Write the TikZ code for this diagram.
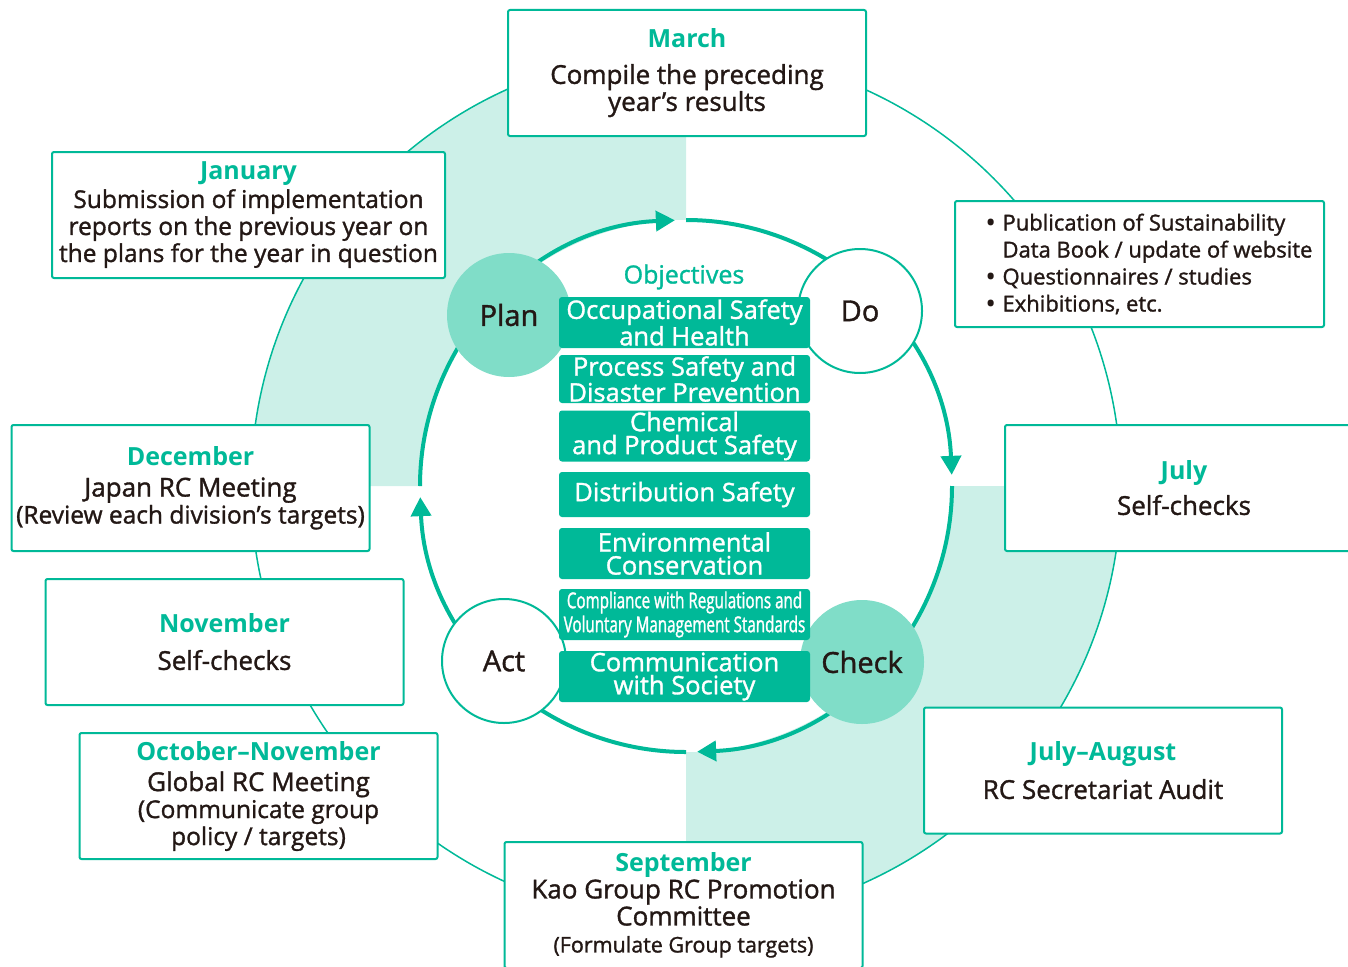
\documentclass[tikz,border=0pt]{standalone}
\usepackage{fontspec}
\setmainfont{Open Sans}[UprightFeatures={FakeBold=1.3}]
\newfontfamily\condfont[FakeStretch=0.69,FakeBold=1.3]{Open Sans}
\usetikzlibrary{arrows.meta}
\definecolor{kaoteal}{RGB}{0,185,152}
\definecolor{kaomint}{RGB}{128,221,200}
\definecolor{kaopale}{RGB}{204,240,232}
\definecolor{kaoink}{RGB}{35,24,21}
\newcommand\mon[1]{{\fontsize{25}{27}\selectfont\bfseries\color{kaoteal}#1}}
\newcommand\smalltext{\fontsize{24.5}{26}\selectfont}
\newcommand\bul{\hspace*{20pt}\makebox[16pt][l]{\bfseries\textbullet}}
\tikzset{
  monthbox/.style={draw=kaoteal, line width=2pt, fill=white, rounded corners=2pt,
    minimum width=358pt, minimum height=126pt, inner sep=2pt, align=center,
    text=kaoink, font=\fontsize{26}{27}\selectfont},
  objbox/.style={fill=kaoteal, rounded corners=3pt, minimum width=251pt,
    minimum height=51pt, inner sep=1pt, align=center, text=white,
    font=\fontsize{25.5}{23}\selectfont},
  pdca/.style={circle, minimum size=124pt, inner sep=0pt, text=kaoink,
    font=\fontsize{29}{30}\selectfont},
  cyc/.style={kaoteal, line width=4pt, -{Triangle[length=19pt,width=20pt]}},
}
\begin{document}
\begin{tikzpicture}[x=1pt,y=-1pt]
\useasboundingbox (0,0) rectangle (1348,966);
\coordinate (c) at (686,486);
% shaded quarters and the year circle
\fill[kaopale] (c) -- ++(0,-435) arc[start angle=-90, delta angle=-90, radius=435] -- cycle;
\fill[kaopale] (c) -- ++(0,435) arc[start angle=90, delta angle=-90, radius=435] -- cycle;
\fill[white] (c) circle[radius=266];
\draw[kaoteal, line width=1.5pt] (c) circle[radius=435];
% PDCA cycle
\foreach \a in {-180,-90,0,90}
  \draw[cyc] ([shift={(\a:266)}]c) arc[start angle=\a, delta angle=87.6, radius=266];
\node[pdca, fill=kaomint] (plan) at (509,315) {Plan};
\node[pdca, fill=white, draw=kaoteal, line width=2pt] (do) at (860,311) {Do};
\node[pdca, fill=white, draw=kaoteal, line width=2pt] (act) at (504,661) {Act};
\node[pdca, fill=kaomint] (check) at (862,662) {Check};
% objectives
\node[text=kaoteal, font=\fontsize{25}{25}\selectfont] (objhead) at (684,277) {Objectives};
\node[objbox] (ohs) at (684.5,322.5) {Occupational Safety\\and Health};
\node[objbox, minimum height=48pt] (psdp) at (684.5,379) {Process Safety and\\Disaster Prevention};
\node[objbox] (cps) at (684.5,436) {Chemical\\and Product Safety};
\node[objbox, minimum height=45pt] (dist) at (684.5,494.5) {Distribution Safety};
\node[objbox] (env) at (684.5,553.5) {Environmental\\Conservation};
\node[objbox, font=\condfont\fontsize{22}{24}\selectfont] (comp) at (684.5,614.5) {Compliance with Regulations and\\Voluntary Management Standards};
\node[objbox] (comm) at (684.5,676.5) {Communication\\with Society};
% months
\node[monthbox] (mar) at (687,73) {\mon{March}\\[9pt]Compile the preceding\\year’s results};
\node[monthbox, minimum width=393pt, font=\fontsize{24.5}{27}\selectfont] (jan) at (248.5,215) {\mon{January}\\[1pt]Submission of implementation\\reports on the previous year on\\the plans for the year in question};
\node[monthbox, minimum width=369pt, align=left, font=\fontsize{22}{27}\selectfont] (pub) at (1139.5,264) {\bul Publication of Sustainability\\\hspace*{36pt}Data Book / update of website\\\bul Questionnaires / studies\\\bul Exhibitions, etc.};
\node[monthbox] (jul) at (1184,488) {\mon{July}\\[8pt]Self-checks};
\node[monthbox] (dec) at (190.5,488) {\mon{December}\\[4pt]Japan RC Meeting\\{\smalltext(Review each division’s targets)}};
\node[monthbox] (nov) at (224.5,642) {\mon{November}\\[10pt]Self-checks};
\node[monthbox] (octnov) at (258.5,796) {\mon{October–November}\\[4pt]Global RC Meeting\\{\smalltext(Communicate group}\\{\smalltext policy / targets)}};
\node[monthbox] (julaug) at (1103,770.5) {\mon{July–August}\\[11pt]RC Secretariat Audit};
\node[monthbox] (sep) at (683.5,905) {\mon{September}\\Kao Group RC Promotion\\Committee\\{\fontsize{21.5}{24}\selectfont(Formulate Group targets)}};
\end{tikzpicture}
\end{document}
